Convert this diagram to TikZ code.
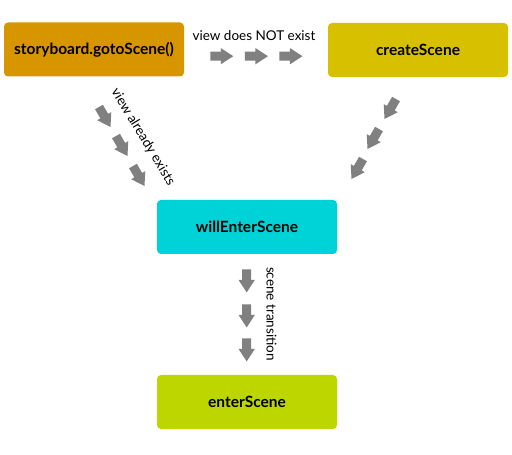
\documentclass[tikz,border=0pt]{standalone}
\usepackage{fontspec}
\setmainfont{Lato}
\usetikzlibrary{shapes.arrows}
\definecolor{cgo}{HTML}{D79600}
\definecolor{ccreate}{HTML}{D7C000}
\definecolor{cwill}{HTML}{00D3D8}
\definecolor{center}{HTML}{BDD600}
\definecolor{carrow}{HTML}{808080}
\tikzset{
  box/.style={rectangle, rounded corners=4pt, minimum width=180pt, minimum height=54pt,
    inner sep=0pt, font=\fontsize{15.5}{17}\selectfont\bfseries, text=black},
  blockarrow/.style={single arrow, fill=carrow, draw=none, inner sep=4.3pt,
    minimum height=23pt, single arrow head extend=3.6pt, single arrow tip angle=66},
  lbl/.style={font=\fontsize{13.5}{15}\selectfont, text=black, inner sep=0pt},
}
\begin{document}
\begin{tikzpicture}[x=1pt,y=1pt]
\useasboundingbox (0,0) rectangle (512,455);
\node[box, fill=cgo] (go) at (94,405.5) {storyboard.gotoScene()};
\node[box, fill=ccreate] (create) at (418,405) {createScene};
\node[box, fill=cwill] (will) at (247,228) {willEnterScene};
\node[box, fill=center] (enter) at (247,53) {enterScene};
% horizontal
\node[blockarrow] (h1) at (218.3,398.8) {};
\node[blockarrow] (h2) at (253,398.8) {};
\node[blockarrow] (h3) at (287.5,398.8) {};
\node[lbl] (lh) at (254,419) {view does NOT exist};
% left diagonal
\node[blockarrow, rotate=-60] (l1) at (103,341) {};
\node[blockarrow, rotate=-60] (l2) at (120,312) {};
\node[blockarrow, rotate=-60] (l3) at (137,282) {};
\node[lbl, rotate=-59] (ll) at (143,318) {view already exists};
% right diagonal
\node[blockarrow, rotate=-120] (r1) at (392,349) {};
\node[blockarrow, rotate=-120] (r2) at (375,319) {};
\node[blockarrow, rotate=-120] (r3) at (359,289) {};
% vertical
\node[blockarrow, rotate=-90] (v1) at (246.7,177.5) {};
\node[blockarrow, rotate=-90] (v2) at (246.7,142.5) {};
\node[blockarrow, rotate=-90] (v3) at (246.7,108.5) {};
\node[lbl, rotate=-90] (lv) at (271.5,141) {scene transition};
\end{tikzpicture}
\end{document}
